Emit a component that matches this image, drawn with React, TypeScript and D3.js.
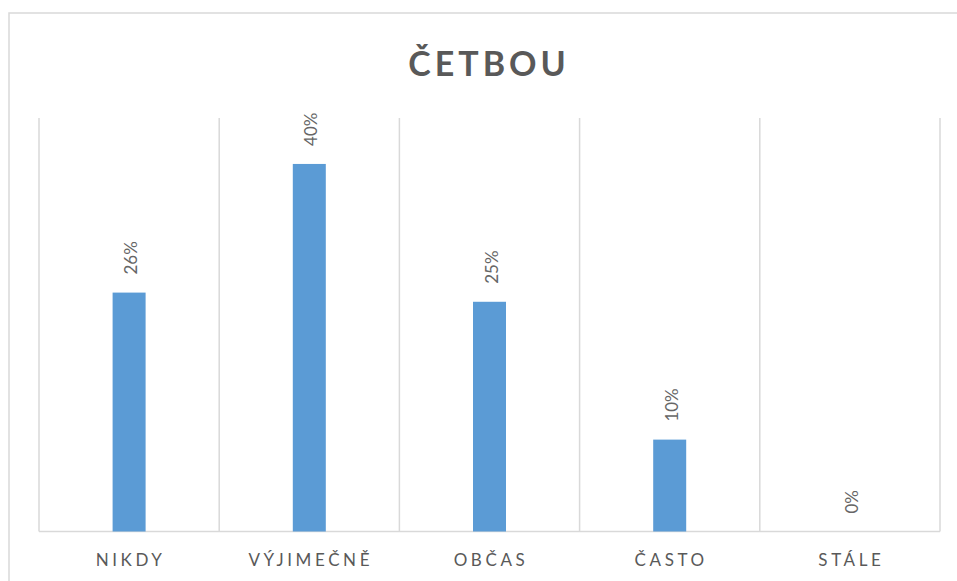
import React from "react";
import * as d3 from "d3";

const categories = ["NIKDY", "VÝJIMEČNĚ", "OBČAS", "ČASTO", "STÁLE"];
const values = [26, 40, 25, 10, 0];
const chartTitle = "ČETBOU";

const W = 957;
const H = 581;
const plot = { left: 39, right: 940, top: 118, bottom: 531.5 };
const FONT = "Lato, 'Open Sans', sans-serif";
const TEXT = "#595959";
const GRID = "#d9d9d9";

export default function App() {
  const x = d3
    .scaleBand<string>()
    .domain(categories)
    .range([plot.left, plot.right]);
  const y = d3.scaleLinear().domain([0, 45]).range([plot.bottom, plot.top]);
  const barW = 33;
  const gridXs = categories.map((c) => x(c)!).concat([plot.right]);

  return (
    <svg
      width={W}
      height={H}
      style={{ position: "absolute", left: 0, top: 0, background: "#fff" }}
    >
      <rect x={9} y={13} width={W + 20} height={H + 20} fill="#fff" stroke={GRID} strokeWidth={1.5} />
      {gridXs.map((gx, i) => (
        <line key={i} x1={gx} x2={gx} y1={plot.top} y2={plot.bottom} stroke={GRID} strokeWidth={1.5} />
      ))}
      <line x1={plot.left} x2={plot.right} y1={plot.bottom} y2={plot.bottom} stroke={GRID} strokeWidth={1.5} />
      <text
        x={489}
        y={76}
        textAnchor="middle"
        fontFamily={FONT}
        fontWeight="bold"
        fontSize={34}
        letterSpacing={4}
        fill={TEXT}
      >
        {chartTitle}
      </text>
      {categories.map((c, i) => {
        const cx = x(c)! + x.bandwidth() / 2;
        const top = y(values[i]);
        return (
          <g key={c}>
            {values[i] > 0 && (
              <rect x={cx - barW / 2} y={top} width={barW} height={plot.bottom - top} fill="#5b9bd5" />
            )}
            <text
              transform={`translate(${cx + 8},${top - 18}) rotate(-90)`}
              fontFamily={FONT}
              fontSize={17}
              fill="#666"
            >
              {values[i]}%
            </text>
            <text
              x={cx + 1.5}
              y={566}
              textAnchor="middle"
              fontFamily={FONT}
              fontSize={17}
              letterSpacing={3.6}
              fill={TEXT}
            >
              {c}
            </text>
          </g>
        );
      })}
    </svg>
  );
}
